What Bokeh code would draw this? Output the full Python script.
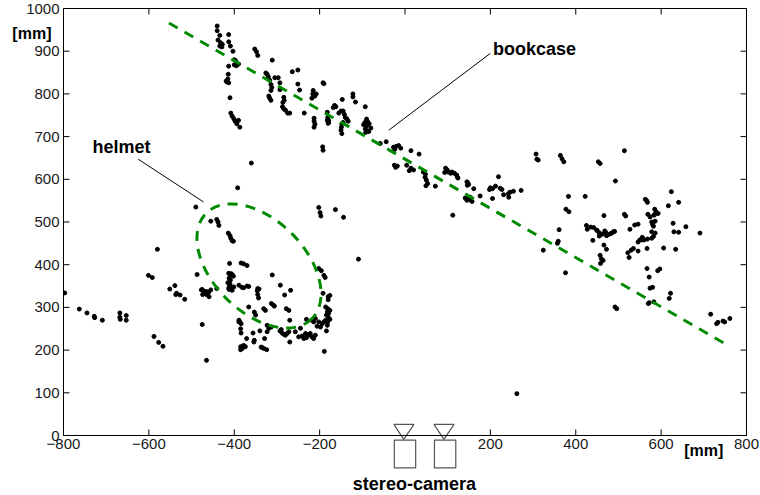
from bokeh.plotting import figure
from bokeh.models import Range1d, FixedTicker
from bokeh.core.properties import value
from bokeh.embed import file_html
from bokeh.resources import INLINE
import math

# ---------------- data ----------------
pts = [
(-440,959),(-440,948),(-434,937),(-438,926),(-432,920),(-428,916),(-434,912),(-429,910),
(-413,939),(-413,922),(-409,912),(-403,900),(-400,880),(-397,878),
(-400,868),(-395,866),(-390,870),(-413,865),(-414,846),
(-415,835),(-417,828),(-413,826),(-419,830),(-410,791),
(-408,755),(-405,748),(-401,742),(-398,736),(-394,730),(-390,738),(-387,722),
(-352,905),(-348,899),(-345,890),(-311,879),
(-326,849),(-323,846),(-320,840),(-317,832),(-305,838),(-297,838),
(-314,822),(-312,815),(-314,808),(-319,795),(-317,790),(-314,785),
(-293,826),(-293,810),
(-284,792),(-283,785),(-286,780),(-287,770),(-284,765),(-280,762),(-275,755),(-270,755),
(-264,852),(-251,856),(-251,823),(-247,809),(-236,755),
(-215,808),(-216,800),(-211,795),(-208,800),(-218,790),(-192,826),
(-213,743),(-213,736),(-211,729),(-213,722),(-179,738),(-179,733),
(-193,676),(-192,668),
(-190,824),(-165,773),(-162,770),(-168,768),
(-182,757),(-182,738),(-180,731),(-181,745),
(-147,787),(-150,760),(-155,755),
(-145,760),(-142,752),(-140,745),(-136,741),(-133,736),(-145,733),(-148,730),(-150,715),(-148,707),(-149,722),
(-122,800),(-122,793),(-116,781),(-93,770),
(-90,741),(-88,736),(-94,733),(-97,728),(-90,725),(-93,718),(-88,713),(-85,712),(-92,710),(-80,720),(-84,730),
(-44,688),(-58,684),
(-27,675),(-21,677),(-15,679),(-24,670),(-10,673),
(14,667),(33,659),
(-25,633),(-18,631),(-22,628),
(4,633),(14,626),(20,622),(10,620),
(43,617),(48,612),(47,605),(50,598),(53,590),(49,585),
(71,584),
(95,626),(99,622),(101,617),(93,616),(107,614),
(121,610),(124,603),
(145,594),(145,551),
(110,617),(116,614),(123,605),
(147,592),(149,588),(146,586),
(161,578),
(141,556),(147,555),(150,552),(153,558),(157,548),
(176,561),
(200,580),(205,578),(198,576),(212,584),
(219,606),(223,579),(227,576),(231,564),
(242,566),(246,570),(254,572),(243,558),
(205,555),(272,574),(112,516),
(307,659),(309,647),(312,645),
(364,656),(368,648),(372,641),
(453,641),(457,637),
(493,596),(383,560),(422,560),(377,530),(384,524),(466,515),
(425,492),(427,483),(435,488),(442,487),(449,481),
(450,480),(455,475),(461,471),(470,473),(455,467),(440,457),
(466,446),(472,436),
(457,422),(460,414),(464,410),(458,403),
(361,482),(359,455),(357,450),(324,434),(376,381),
(514,667),(624,571),(641,546),
(563,553),(566,550),(568,546),(617,538),
(585,530),(588,524),(586,518),(583,516),(593,520),
(569,518),(574,512),
(514,518),(517,514),
(578,500),(580,494),(582,490),(586,502),
(628,497),(658,489),
(546,495),(538,493),(527,483),
(468,479),(470,476),(472,468),(475,470),(480,472),(484,474),(488,477),(491,478),
(630,477),(641,476),(691,474),
(578,477),(586,474),(582,466),(578,462),
(556,464),(554,458),(560,458),(568,460),(550,458),(546,453),
(567,438),(606,439),(634,436),
(535,438),(530,434),(522,428),(525,417),(546,432),
(567,391),(597,390),(592,386),
(572,371),(574,345),(580,347),
(622,333),(619,321),
(570,309),(572,311),(583,313),
(492,301),(496,297),
(716,284),(730,262),(733,265),(745,268),(749,266),(761,274),
(262,98),
(-797,334),(-763,296),(-745,287),(-728,279),(-727,276),(-709,270),
(-668,287),(-668,277),(-667,272),(-653,281),(-653,270),
(-601,375),(-592,370),(-580,436),
(-588,232),(-577,218),(-567,209),
(-551,343),(-539,351),(-535,333),(-527,329),(-516,319),(-537,330),
(-490,535),(-487,377),(-475,260),
(-477,341),(-465,337),(-459,325),(-465,330),(-455,341),(-460,335),
(-465,176),(-455,502),(-441,506),(-438,500),(-436,492),(-441,344),
(-414,474),(-410,468),(-408,462),(-405,456),(-402,455),
(-411,403),
(-413,380),(-410,376),(-412,368),(-409,364),(-415,358),(-411,352),(-413,345),(-405,340),
(-392,580),(-360,638),(-389,266),(-385,208),
(-384,404),(-378,402),(-370,398),
(-407,379),(-404,376),(-402,373),
(-410,355),(-407,346),(-412,342),(-401,348),
(-311,376),
(-475,342),(-472,338),(-474,330),(-470,337),
(-389,352),(-382,347),(-378,346),(-370,350),(-366,349),
(-345,344),(-342,343),(-346,339),(-345,330),(-343,322),
(-292,352),(-282,329),(-268,340),
(-366,301),(-353,289),(-350,282),(-331,297),(-327,293),
(-313,309),(-308,305),(-306,303),
(-278,297),(-272,293),
(-202,391),(-196,386),(-190,375),(-187,370),
(-192,333),(-180,325),(-176,328),(-180,318),
(-186,301),(-181,297),(-176,293),(-182,289),(-179,286),(-184,282),(-179,276),(-186,270),
(-190,266),(-181,266),(-176,272),(-182,258),(-194,262),(-202,266),(-198,254),(-206,256),
(-210,274),(-214,266),(-218,270),(-231,272),(-184,245),
(-389,270),(-387,266),(-384,262),(-385,250),(-384,240),(-371,227),
(-378,211),(-374,208),(-381,204),(-385,201),
(-356,240),(-353,223),(-354,219),
(-340,245),(-329,227),(-337,207),(-335,206),(-331,204),(-324,201),
(-323,258),(-319,251),(-313,254),(-323,243),
(-293,245),(-288,240),(-284,237),(-280,235),(-276,239),(-272,243),(-290,248),
(-270,219),(-270,270),
(-257,243),(-249,231),(-241,233),(-237,227),(-231,229),(-226,235),(-218,231),(-214,227),
(-210,235),(-222,239),(-233,239),(-245,251),
(-189,197),(-109,413),
(-202,534),(-199,522),(-197,514),(-163,529),(-144,511),
]
point_x = [p[0] for p in pts]
point_y = [p[1] for p in pts]

bookcase_x = [-553, 762]
bookcase_y = [966, 208]

helmet_cx, helmet_cy = -342, 397
helmet_w, helmet_h = 350, 216
helmet_angle_deg = -45

camera_x = [0, 94]

x_ticks = [-800, -600, -400, -200, 0, 200, 400, 600, 800]
x_tick_labels = ["\u2212800", "\u2212600", "\u2212400", "\u2212200", "", "200", "400", "600", "800"]
y_ticks = [0, 100, 200, 300, 400, 500, 600, 700, 800, 900, 1000]

GREEN = "#008a00"
FONT = "Liberation Sans"
X0, X1, Y0, Y1 = -800, 800, 0, 1000

p = figure(width=760, height=495, output_backend="svg", toolbar_location=None,
           x_range=Range1d(X0, X1), y_range=Range1d(Y0, Y1),
           min_border_left=63, min_border_right=14, min_border_top=8, min_border_bottom=60)
p.background_fill_color = "white"
p.border_fill_color = "white"
p.xgrid.visible = False
p.ygrid.visible = False
p.outline_line_color = "black"
p.outline_line_width = 1
p.outline_line_alpha = 1

for ax, ticks in ((p.xaxis[0], x_ticks), (p.yaxis[0], y_ticks)):
    ax.ticker = FixedTicker(ticks=ticks)
    ax.major_tick_in = 0
    ax.major_tick_out = 0
    ax.minor_tick_line_color = None
    ax.axis_line_color = "black"
    ax.major_label_text_font = FONT
    ax.major_label_text_font_size = "15px"
    ax.major_label_text_color = "#1a1a1a"
p.xaxis[0].major_label_overrides = {t: l for t, l in zip(x_ticks, x_tick_labels)}
p.xaxis[0].major_label_standoff = 3
p.yaxis[0].major_label_standoff = 4

# inward tick marks on all four sides (6 px long)
tx = 6 * (X1 - X0) / 683.0
ty = 6 * (Y1 - Y0) / 427.0
p.segment(x0=x_ticks, y0=[Y0] * len(x_ticks), x1=x_ticks, y1=[Y0 + ty] * len(x_ticks),
          line_color="black", line_width=1)
p.segment(x0=x_ticks, y0=[Y1] * len(x_ticks), x1=x_ticks, y1=[Y1 - ty] * len(x_ticks),
          line_color="black", line_width=1)
p.segment(x0=[X0] * len(y_ticks), y0=y_ticks, x1=[X0 + tx] * len(y_ticks), y1=y_ticks,
          line_color="black", line_width=1)
p.segment(x0=[X1] * len(y_ticks), y0=y_ticks, x1=[X1 - tx] * len(y_ticks), y1=y_ticks,
          line_color="black", line_width=1)

p.scatter(point_x, point_y, size=4, color="black", marker="circle")

p.line(bookcase_x, bookcase_y, line_color=GREEN, line_width=3, line_dash="10 8")

p.ellipse(x=[helmet_cx], y=[helmet_cy], width=[helmet_w], height=[helmet_h],
          angle=math.radians(helmet_angle_deg), fill_color=None,
          line_color=GREEN, line_width=3, line_dash="10 8")

p.segment(x0=[-38, -625], y0=[715, 647], x1=[200, -472], y1=[895, 547],
          line_color="black", line_width=1)

# stereo camera icons (below the axis), drawn at guide level so they are not clipped
box_half = 25
p.quad(left=[c - box_half for c in camera_x], right=[c + box_half for c in camera_x],
       bottom=[-76] * len(camera_x), top=[-11] * len(camera_x),
       fill_color="white", line_color="#555555", line_width=1.2, level="guide")
p.patches([[c - 26, c + 21, c - 3] for c in camera_x], [[26, 26, -9] for c in camera_x],
          fill_color="white", line_color="#555555", line_width=1.2, level="guide")

# inside-frame annotations
p.text(x=[206, -732], y=[906, 675], text=["bookcase", "helmet"],
       text_font=value(FONT), text_font_style="bold", text_font_size="18px",
       text_align="left", text_baseline="middle", text_color="black")

# outside-frame texts
p.text(x=[22], y=[-114], text=["stereo-camera"],
       text_font=value(FONT), text_font_style="bold", text_font_size="18px",
       text_align="center", text_baseline="middle", text_color="black", level="guide")
p.text(x=[-874, 700], y=[942, -36], text=["[mm]", "[mm]"],
       text_font=value(FONT), text_font_style="bold", text_font_size="16px",
       text_align="center", text_baseline="middle", text_color="black", level="guide")

open("out.html", "w").write(file_html(p, INLINE))
